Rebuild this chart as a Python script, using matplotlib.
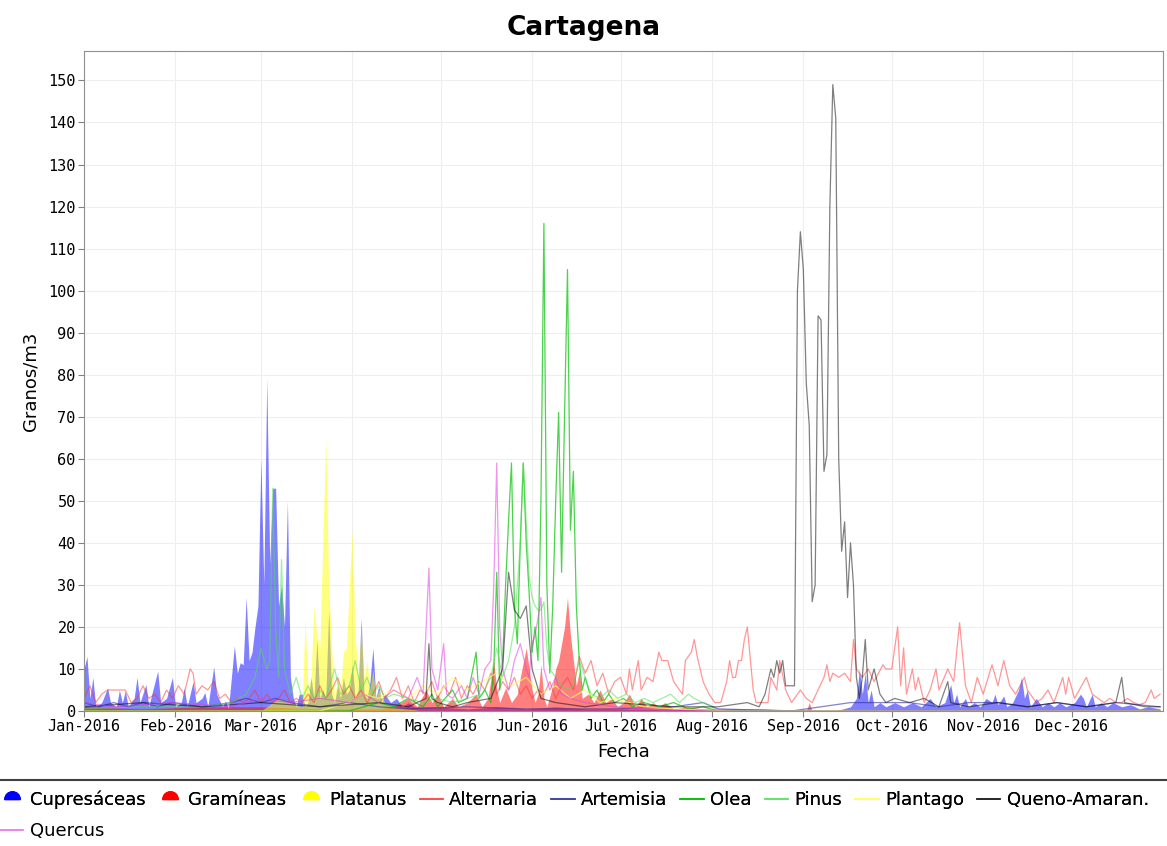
import numpy as np
import matplotlib
matplotlib.use("Agg")
import matplotlib.pyplot as plt
import matplotlib.dates as mdates
from matplotlib.lines import Line2D
from matplotlib.path import Path

# datos (dia del año 2016, 0 = 1 de enero) -> granos/m3
cupre_dias = [0, 1, 2, 3, 4, 6, 8, 9, 11, 12, 13, 14, 15, 17, 18, 19, 21, 22, 23, 25, 26, 28, 30, 31, 33, 34, 35, 37, 38,
              40, 41, 42, 44, 45, 47, 48, 49, 50, 51, 52, 53, 54, 55, 56, 57, 58, 59, 60, 61, 62, 63, 64, 65, 66, 67,
              68, 69, 70, 71, 72, 73, 74, 75, 76, 77, 78, 79, 80, 81, 82, 83, 84, 85, 86, 87, 88, 89, 90, 91, 92, 93,
              94, 95, 96, 97, 98, 99, 100, 101, 102, 104, 106, 108, 110, 112, 115, 120, 130, 140, 150, 160, 170, 180,
              200, 230, 255, 260, 262, 263, 264, 265, 266, 267, 268, 270, 272, 275, 278, 281, 284, 287, 289, 292, 294,
              295, 296, 297, 299, 300, 302, 304, 306, 308, 309, 310, 312, 313, 315, 317, 318, 319, 320, 321, 323, 325,
              327, 329, 331, 333, 336, 338, 339, 340, 342, 343, 345, 347, 349, 352, 355, 358, 361, 365]
cupre_vals = [10, 13, 3, 8, 1, 2, 5.5, 2, 1, 5, 2, 4.8, 1, 3, 8, 2, 6.3, 1, 4, 9.5, 2, 3, 8, 1, 2, 5.5, 1, 7, 2,
              3, 4.4, 1, 10.5, 4, 1, 2.4, 0.5, 8, 15.5, 9, 11.5, 11, 27, 12, 14, 20, 25, 60, 30, 79, 35, 53, 53, 25, 30,
              20, 50, 8, 3, 1, 4, 4, 1, 2, 8, 3, 17, 3, 5, 3, 24, 4, 2, 6, 3, 8, 4, 5, 11, 3, 5,
              22, 4, 3, 7, 15, 3, 6, 2, 4, 2, 3, 1, 2, 1, 1, 1, 0.5, 1, 0.5, 1, 0.5, 0.5,
              0.5, 0.5, 0, 1, 3, 10, 4, 9, 2, 5, 1, 2, 1, 2, 1, 2, 1, 3, 1, 2, 6.3,
              2, 4, 1, 3, 1, 2, 1, 3, 2, 4, 1.5, 3.6, 1, 2, 5, 8, 3, 5, 1, 3, 1,
              2, 1, 2, 1, 2, 4, 3, 1, 4, 1, 2, 1, 2, 1, 1.5, 0.5, 1, 0.5]

gram_dias = [0, 20, 40, 60, 80, 100, 105, 110, 113, 116, 118, 120, 122, 125, 127, 130, 133, 135, 137, 139, 140, 141,
             143, 145, 147, 148, 150, 152, 153, 154, 155, 156, 157, 159, 160, 161, 162, 163, 164, 165, 166, 167, 168,
             169, 171, 173, 175, 177, 179, 181, 183, 185, 187, 189, 191, 193, 195, 197, 200, 205, 210, 215, 245, 246,
             247, 365]
gram_vals = [1, 0.5, 1, 1, 0.5, 0.5, 1, 3, 1, 5, 2, 4, 1, 3, 1, 2, 4, 1, 3, 12, 5, 2,
             5.5, 2, 4, 8, 15, 5, 2, 4, 11, 3, 1, 6, 10, 12, 16, 20, 27, 18, 12, 6, 9.5,
             3, 4, 2, 5, 2, 3, 1, 2, 4, 1, 3, 1, 2, 1, 2, 0.5, 1, 0.5, 0, 0, 2,
             0, 0]

plat_dias = [0, 60, 66, 70, 74, 75, 76, 77, 78, 79, 80, 81, 82, 83, 84, 85, 86, 87, 88, 89, 90, 91, 92, 93, 94, 95,
             96, 97, 98, 99, 100, 102, 105, 110, 115, 365]
plat_vals = [0, 0, 3, 2, 1, 22, 5, 8, 25, 18, 15, 40, 65, 30, 15, 3, 8, 5, 14, 15, 30, 43, 18, 8, 20, 8,
             12, 5, 10, 3, 5, 2, 1, 0.5, 0, 0]

alt_dias = [0, 2, 4, 6, 8, 10, 12, 14, 16, 18, 20, 22, 24, 26, 28, 30, 32, 34, 36, 37, 38, 40, 42, 44, 46, 48, 50,
            52, 54, 56, 58, 60, 62, 64, 66, 68, 70, 72, 74, 76, 78, 80, 82, 84, 86, 88, 90, 92, 94, 96, 98, 100, 102,
            104, 106, 108, 110, 112, 114, 116, 118, 120, 122, 124, 126, 128, 130, 132, 134, 136, 138, 140, 142, 144,
            146, 148, 150, 152, 154, 156, 158, 160, 162, 164, 166, 168, 170, 172, 174, 176, 178, 180, 182, 184, 185,
            186, 188, 189, 191, 193, 195, 196, 198, 200, 202, 203, 204, 206, 207, 208, 210, 212, 214, 216, 218, 219,
            220, 221, 222, 223, 224, 225, 227, 228, 230, 232, 233, 235, 236, 238, 240, 241, 243, 245, 247, 249, 251,
            252, 253, 254, 256, 258, 260, 261, 262, 264, 266, 268, 271, 272, 274, 276, 277, 278, 279, 281, 282, 283,
            285, 287, 289, 290, 293, 295, 297, 299, 301, 303, 305, 308, 310, 312, 314, 316, 319, 320, 323, 325, 327,
            329, 332, 333, 334, 336, 340, 342, 344, 346, 348, 350, 352, 354, 356, 358, 360, 362, 363, 365]
alt_vals = [3, 6, 2, 4, 5, 5, 5, 5, 2, 3, 6, 3, 4, 2, 5, 3, 6, 4, 10, 9, 4, 6, 5, 7, 3, 4, 2,
            3, 2, 3, 5, 2, 4, 2, 3, 5, 2, 3, 2, 4, 2, 6, 3, 5, 8, 4, 6, 3, 5, 2, 4, 7, 3,
            5, 8, 3, 6, 2, 5, 4, 7, 3, 6, 4, 8, 3, 6, 4, 7, 5, 9, 4, 7, 5,
            8, 4, 6, 3, 5, 4, 7, 3, 6, 8, 5, 13, 9, 12, 6, 9, 4, 7, 8, 4, 10,
            5, 12, 5, 8, 7, 14, 12, 12, 7, 5, 4, 12, 14, 17, 13, 7, 4, 2, 2, 7, 12,
            8, 8, 12, 12, 17, 20, 5, 2, 2, 2, 8, 5, 12, 5, 2, 3, 5, 3, 2, 5, 8,
            11, 7, 9, 8, 9, 7, 17, 10, 8, 10, 7, 11, 10, 10, 20, 6, 15, 4, 10, 5, 8,
            2, 5, 10, 5, 10, 7, 21, 6, 2, 8, 4, 11, 6, 12, 6, 4, 8, 5, 2, 3, 5,
            2, 8, 4, 8, 3, 8, 4, 3, 2, 3, 2, 2, 3, 2, 1.5, 2, 5, 3, 4]

art_dias = [0, 5, 10, 15, 20, 25, 30, 40, 50, 55, 60, 65, 70, 80, 90, 100, 110, 130, 150, 180, 200, 210, 215, 240,
            250, 260, 270, 280, 290, 300, 310, 320, 330, 340, 350, 365]
art_vals = [2, 1, 2, 1, 2, 1, 2, 1, 2, 3, 2, 3, 2, 1, 2, 1, 0.5, 1, 0.5, 0.5, 1, 2, 0.5, 0,
            1, 2, 2, 2, 1, 2, 2, 1, 2, 1, 2, 1]

olea_dias = [0, 90, 95, 100, 105, 110, 115, 118, 120, 125, 127, 130, 133, 134, 136, 138, 139, 140, 141, 142, 143,
             144, 145, 146, 147, 148, 149, 150, 151, 152, 153, 154, 155, 156, 157, 158, 159, 160, 161, 162, 163, 164,
             165, 166, 167, 168, 169, 170, 172, 174, 176, 178, 180, 183, 186, 190, 195, 200, 205, 210, 215, 365]
olea_vals = [0, 0, 1, 2, 1, 3, 1, 4, 1, 5, 2, 3, 14, 3, 5, 2, 10, 33, 5, 12, 30,
             45, 59, 25, 16, 40, 59, 40, 28, 14, 20, 12, 50, 116, 30, 9, 25, 50, 71, 33, 70, 105,
             43, 57, 25, 12, 5, 8, 3, 5, 2, 4, 2, 3, 1, 2, 1, 2, 0.5, 1, 0, 0]

pinus_dias = [0, 20, 40, 50, 55, 58, 60, 62, 63, 64, 65, 66, 67, 68, 70, 72, 74, 76, 78, 80, 82, 85, 87, 90, 92,
              94, 96, 98, 100, 102, 105, 110, 115, 120, 125, 130, 135, 138, 140, 142, 144, 146, 148, 149, 150, 151,
              152, 153, 154, 155, 156, 157, 158, 160, 162, 164, 166, 168, 170, 172, 175, 178, 181, 184, 187, 190, 193,
              196, 199, 202, 205, 207, 210, 213, 215, 365]
pinus_vals = [0.5, 1, 1, 2, 4, 8, 15, 10, 12, 53, 20, 8, 36, 10, 4, 8, 3, 6, 3, 5, 3, 10, 4, 6, 12,
              5, 8, 4, 6, 3, 4, 3, 2, 3, 2, 3, 4, 8, 15, 8, 12, 20, 40, 59, 45, 32,
              27, 25, 24, 24, 26, 15, 10, 8, 6, 5, 6, 12, 8, 4, 3, 5, 3, 4, 2, 3, 2,
              3, 4, 2, 4, 3, 2, 1, 0, 0]

plant_dias = [0, 80, 90, 95, 100, 105, 110, 115, 120, 125, 130, 135, 140, 145, 150, 155, 160, 165, 170, 175, 180,
              190, 200, 220, 365]
plant_vals = [0, 0, 2, 4, 3, 5, 3, 6, 4, 8, 5, 7, 9, 6, 8, 4, 6, 3, 5, 2, 3, 1, 0.5, 0, 0]

queno_dias = [0, 20, 40, 60, 80, 100, 110, 116, 117, 118, 120, 125, 130, 138, 142, 144, 146, 148, 150, 152, 155, 160,
              170, 180, 200, 215, 225, 229, 231, 233, 234, 235, 236, 237, 238, 239, 240, 241, 242, 243, 244, 245,
              246, 247, 248, 249, 250, 251, 252, 253, 254, 255, 256, 257, 258, 259, 260, 261, 262, 263, 264, 265,
              266, 268, 270, 272, 275, 280, 285, 290, 293, 294, 300, 310, 320, 330, 340, 350, 352, 353, 360, 365]
queno_vals = [1, 2, 1, 2, 1, 2, 1, 3, 16, 3, 2, 1, 2, 3, 10, 33, 24, 22, 25, 10, 3, 2,
              1, 2, 1, 1, 2, 1, 4, 10, 8, 12, 9, 12, 6, 6, 6, 6, 100, 114, 105, 78,
              68, 26, 30, 94, 93, 57, 61, 120, 149, 141, 60, 38, 45, 27, 40, 30, 8, 3, 8, 17,
              5, 10, 4, 2, 3, 2, 3, 1, 7, 2, 1, 2, 1, 2, 1, 2, 8, 2, 1, 1]

quer_dias = [0, 10, 30, 50, 60, 70, 80, 90, 95, 100, 105, 110, 113, 115, 117, 118, 120, 122, 123, 125, 128, 130, 132,
             134, 136, 138, 139, 140, 141, 142, 144, 146, 148, 150, 151, 152, 153, 154, 155, 156, 158, 160, 162, 165,
             170, 180, 190, 200, 365]
quer_vals = [2, 1, 2, 1, 3, 2, 3, 2, 4, 2, 5, 3, 8, 4, 34, 10, 5, 16, 4, 3, 6, 3, 8,
             4, 10, 12, 30, 59, 20, 10, 5, 12, 16, 10, 8, 16, 18, 22, 27, 10, 5, 8, 4, 3,
             2, 1, 0.5, 0, 0]

areas = [
    ("Cupresáceas", cupre_dias, cupre_vals, "#0000ff"),
    ("Gramíneas", gram_dias, gram_vals, "#ff0000"),
    ("Platanus", plat_dias, plat_vals, "#ffff00"),
]
lineas = [
    ("Alternaria", alt_dias, alt_vals, "#ff3030", 0.5),
    ("Artemisia", art_dias, art_vals, "#3030a0", 0.6),
    ("Olea", olea_dias, olea_vals, "#00c000", 0.7),
    ("Pinus", pinus_dias, pinus_vals, "#50e050", 0.55),
    ("Plantago", plant_dias, plant_vals, "#ffff60", 0.7),
    ("Queno-Amaran.", queno_dias, queno_vals, "#000000", 0.5),
    ("Quercus", quer_dias, quer_vals, "#e040e0", 0.55),
]

inicio = np.datetime64("2016-01-01")


def fechas(dias):
    return inicio + np.array(dias).astype("timedelta64[D]")


plt.rcParams["font.family"] = ["DejaVu Sans"]
fig = plt.figure(figsize=(11.67, 8.46), dpi=100)
ax = fig.add_axes([84 / 1167, 1 - 711 / 846, (1163 - 84) / 1167, (711 - 51) / 846])

for nombre, d, v, c in areas:
    ax.fill_between(fechas(d), v, 0, color=c, alpha=0.5, lw=0)
for nombre, d, v, c, a in lineas:
    ax.plot(fechas(d), v, color=c, alpha=a, lw=0.9)

ax.set_ylim(0, 157)
ax.set_xlim(inicio, inicio + np.timedelta64(366, "D"))
ax.set_yticks(np.arange(0, 151, 10))
meses = np.arange("2016-01", "2017-01", dtype="datetime64[M]").astype("datetime64[D]")
ax.set_xticks(meses)
ax.xaxis.set_major_formatter(mdates.DateFormatter("%b-%Y"))
ax.grid(True, color="#eeeeee", lw=0.8)
ax.set_axisbelow(True)
for s in ax.spines.values():
    s.set_color("#909090")
ax.tick_params(direction="out", length=4, color="#808080", pad=2)
for lab in ax.get_xticklabels() + ax.get_yticklabels():
    lab.set_family("DejaVu Sans Mono")
    lab.set_fontsize(11)

ax.set_xlabel("Fecha", fontsize=13, labelpad=6)
ax.set_ylabel("Granos/m3", fontsize=13, labelpad=6)
fig.text(0.5, 1 - 28 / 846, "Cartagena", ha="center", va="center", fontsize=19, fontweight="bold")

# separador de la leyenda
fig.add_artist(Line2D([0, 1], [1 - 780 / 846] * 2, transform=fig.transFigure, color="#404040", lw=1.5))

campana = Path.wedge(0, 180)
handles = [Line2D([], [], marker=campana, ls="none", ms=11, color=c) for _, _, _, c in areas]
handles += [Line2D([], [], color=c, alpha=min(1, a + 0.2), lw=1.2) for _, _, _, c, a in lineas]
nombres = [a[0] for a in areas] + [l[0] for l in lineas]

kw = dict(frameon=False, fontsize=13, handlelength=1.3, handletextpad=0.35, columnspacing=0.72,
          borderpad=0, borderaxespad=0, loc="center left")
ley1 = fig.legend(handles[:9], nombres[:9], ncol=9, bbox_to_anchor=(0.0, 1 - 800 / 846), **kw)
fig.add_artist(ley1)
fig.legend(handles[9:], nombres[9:], ncol=1, bbox_to_anchor=(0.0, 1 - 831 / 846), **kw)

fig.savefig("out.png", dpi=100)
